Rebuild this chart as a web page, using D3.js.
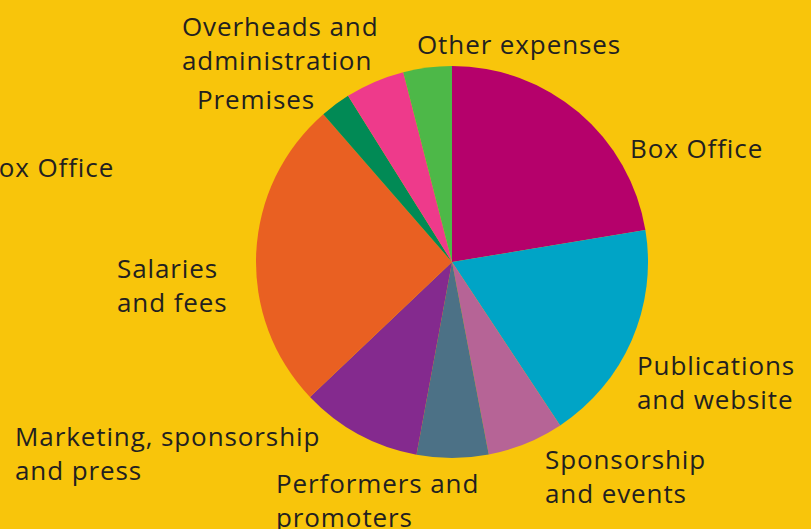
<!DOCTYPE html>
<html>
<head>
<meta charset="utf-8">
<script src="https://cdn.jsdelivr.net/npm/d3@7"></script>
<style>
  html, body { margin: 0; padding: 0; background: #F8C50B; overflow: hidden; }
  svg { display: block; }
  text { font-family: "Open Sans", "Noto Sans", sans-serif; fill: #231F20; letter-spacing: 0.9px; }
</style>
</head>
<body>
<svg id="chart" width="811" height="529"></svg>
<script>
// Data (percent shares, clockwise from 12 o'clock)
const categories = [
  "Box Office",
  "Publications and website",
  "Sponsorship and events",
  "Performers and promoters",
  "Marketing, sponsorship and press",
  "Salaries and fees",
  "Premises",
  "Overheads and administration",
  "Other expenses"
];
const values = [22.4, 18.3, 6.3, 5.9, 10.0, 25.7, 2.5, 4.9, 4.0];
const colors = ["#B5016B", "#00A4C6", "#B66496", "#4C7186", "#842A8E", "#E96022", "#018A55", "#EE3A8B", "#4DB848"];

// Label lines
const labelLines = [
  ["Box Office"],
  ["Publications", "and website"],
  ["Sponsorship", "and events"],
  ["Performers and", "promoters"],
  ["Marketing, sponsorship", "and press"],
  ["Salaries", "and fees"],
  ["Premises"],
  ["Overheads and", "administration"],
  ["Other expenses"]
];
// Label anchor positions (x of left edge, baseline of first line)
const labelPos = [
  [630, 158], [637, 375], [545, 469], [276, 493], [15, 446],
  [117, 278], [197, 109], [182, 36], [417, 54]
];
// Stray partial label at the far left
const extraLabel = { text: "Box Office", x: -19, y: 177 };

const W = 811, H = 529;
const cx = 452, cy = 262, R = 196;
const lineH = 34;

const svg = d3.select("#chart");
svg.append("rect").attr("width", W).attr("height", H).attr("fill", "#F8C50B");

const color = d3.scaleOrdinal().domain(categories).range(colors);

const pie = d3.pie().sort(null).value(d => d.value).startAngle(0).endAngle(2 * Math.PI);
const data = categories.map((c, i) => ({ name: c, value: values[i] }));
const arc = d3.arc().innerRadius(0).outerRadius(R);

const g = svg.append("g").attr("transform", `translate(${cx},${cy})`);
g.selectAll("path")
  .data(pie(data))
  .join("path")
  .attr("d", arc)
  .attr("fill", d => color(d.data.name));

const labels = svg.append("g").attr("font-size", 26);
categories.forEach((c, i) => {
  const t = labels.append("text")
    .attr("x", labelPos[i][0])
    .attr("y", labelPos[i][1]);
  labelLines[i].forEach((ln, j) => {
    t.append("tspan").attr("x", labelPos[i][0]).attr("dy", j === 0 ? 0 : lineH).text(ln);
  });
});
labels.append("text").attr("x", extraLabel.x).attr("y", extraLabel.y).text(extraLabel.text);
</script>
</body>
</html>
